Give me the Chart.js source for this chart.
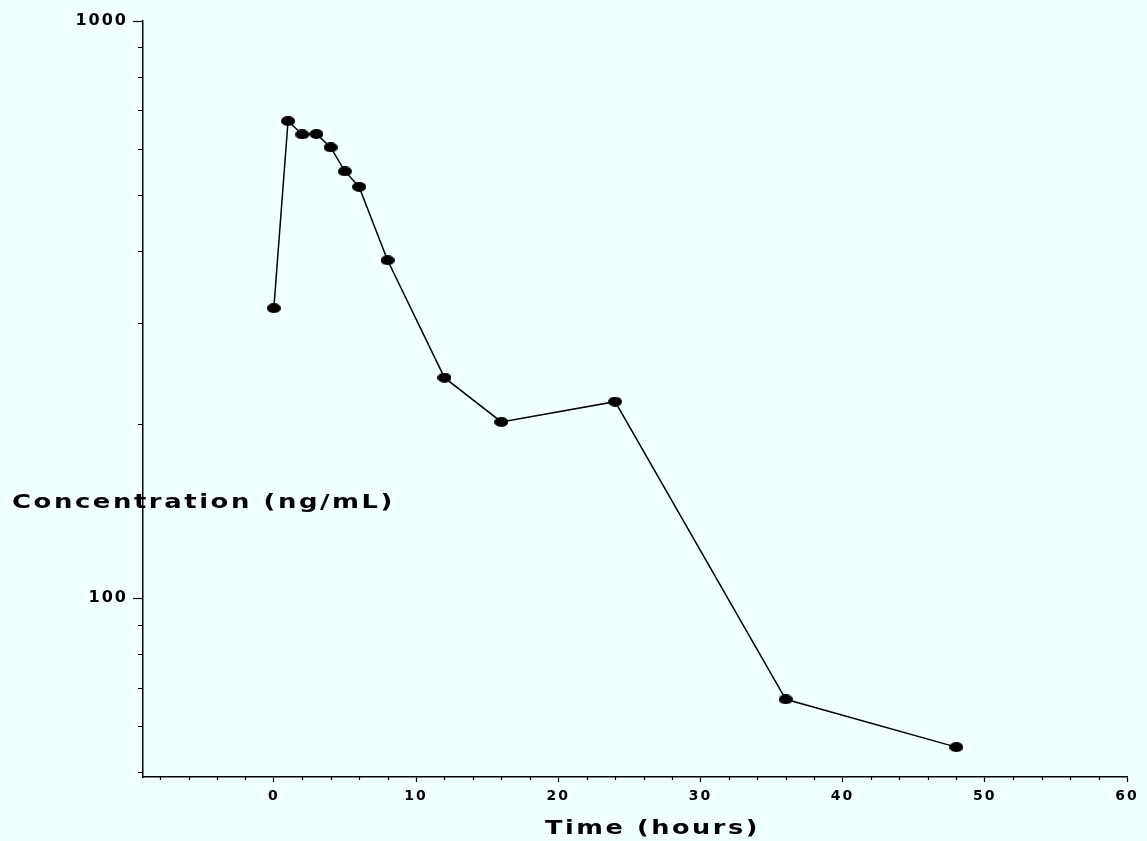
<!DOCTYPE html>
<html>
<head>
<meta charset="utf-8">
<title>Concentration vs Time</title>
<script src="https://cdn.jsdelivr.net/npm/chart.js@4.4.1/dist/chart.umd.min.js"></script>
<style>
  html, body { margin: 0; padding: 0; background: #f0ffff; }
  #wrap { width: 1147px; height: 841px; position: relative; }
</style>
</head>
<body>
<div id="wrap"><canvas id="chart"></canvas></div>
<script>
// sampling times (hours) and measured concentrations (ng/mL)
const timeHours = [0, 1, 2, 3, 4, 5, 6, 8, 12, 16, 24, 36, 48];
const concentration = [318, 671, 636, 637, 604, 549, 516, 385, 241, 202, 219, 66.8, 55.2];

// axis ticks
const yTickValues = [50, 60, 70, 80, 90, 100, 200, 300, 400, 500, 600, 700, 800, 900, 1000];
const yLabelled = [100, 1000];
const xTickValues = [-8, -6, -4, -2, 0, 2, 4, 6, 8, 10, 12, 14, 16, 18, 20, 22, 24, 26, 28, 30,
  32, 34, 36, 38, 40, 42, 44, 46, 48, 50, 52, 54, 56, 58, 60];
const xLabelled = [0, 10, 20, 30, 40, 50, 60];

const yTitle = 'Concentration (ng/mL)';
const xTitle = 'Time (hours)';

const INK = '#000';
const FONT = "'DejaVu Sans', sans-serif";

// flattened oval marker
function ovalMarker(w, h) {
  const c = document.createElement('canvas');
  c.width = w; c.height = h;
  const g = c.getContext('2d');
  g.fillStyle = INK;
  g.beginPath();
  g.ellipse(w / 2, h / 2, w / 2, h / 2, 0, 0, Math.PI * 2);
  g.fill();
  return c;
}
const marker = ovalMarker(14, 10);

// short unlabelled ticks plus the two free-floating axis titles
const decorations = {
  id: 'decorations',
  beforeDraw(chart) {
    chart.ctx.letterSpacing = '2px';
  },
  afterDraw(chart) {
    const { ctx, scales: { x, y } } = chart;
    ctx.save();
    ctx.strokeStyle = INK;
    ctx.lineWidth = 1.2;
    ctx.beginPath();
    yTickValues.filter(v => !yLabelled.includes(v)).forEach(v => {
      const py = Math.round(y.getPixelForValue(v)) + 0.5;
      ctx.moveTo(x.left - 5, py);
      ctx.lineTo(x.left, py);
    });
    xTickValues.filter(v => !xLabelled.includes(v)).forEach(v => {
      const px = Math.round(x.getPixelForValue(v)) + 0.5;
      ctx.moveTo(px, y.bottom);
      ctx.lineTo(px, y.bottom + 3);
    });
    ctx.stroke();

    ctx.fillStyle = INK;
    ctx.textBaseline = 'middle';
    ctx.textAlign = 'left';
    const drawStretched = (text, left, midY, width, size) => {
      ctx.font = `bold ${size}px ${FONT}`;
      ctx.letterSpacing = '2px';
      const w = ctx.measureText(text).width;
      ctx.save();
      ctx.translate(left, midY);
      ctx.scale(width / w, 1);
      ctx.fillText(text, 0, 0);
      ctx.restore();
    };
    drawStretched(yTitle, 12, 503, 383, 20);
    drawStretched(xTitle, 545, 829, 215, 20);
    ctx.restore();
  }
};

new Chart(document.getElementById('chart'), {
  type: 'line',
  data: {
    datasets: [{
      data: timeHours.map((t, i) => ({ x: t, y: concentration[i] })),
      borderColor: INK,
      borderWidth: 1.5,
      tension: 0,
      fill: false,
      pointStyle: marker,
      pointRadius: 7,
      pointBackgroundColor: INK,
      pointBorderColor: INK
    }]
  },
  options: {
    responsive: true,
    maintainAspectRatio: false,
    animation: false,
    layout: { padding: { top: 21, right: 20, left: 0, bottom: 0 } },
    plugins: {
      legend: { display: false },
      tooltip: { enabled: false }
    },
    scales: {
      x: {
        type: 'linear',
        min: -9.2,
        max: 60,
        afterBuildTicks: s => { s.ticks = xTickValues.map(v => ({ value: v })); },
        afterFit: s => { s.height = 64; },
        grid: {
          drawOnChartArea: false,
          tickLength: 5,
          tickWidth: 1.2,
          tickColor: c => xLabelled.includes(c.tick && c.tick.value) ? INK : 'transparent'
        },
        border: { color: INK, width: 1.5 },
        ticks: {
          autoSkip: false,
          maxRotation: 0,
          padding: 6,
          color: INK,
          font: { family: FONT, weight: 'bold', size: 14 },
          callback: v => xLabelled.includes(v) ? String(v) : ''
        }
      },
      y: {
        type: 'logarithmic',
        min: 49,
        max: 1000,
        afterBuildTicks: s => { s.ticks = yTickValues.map(v => ({ value: v })); },
        afterFit: s => { s.width = 143; },
        grid: {
          drawOnChartArea: false,
          tickLength: 10,
          tickWidth: 1.2,
          tickColor: c => yLabelled.includes(c.tick && c.tick.value) ? INK : 'transparent'
        },
        border: { color: INK, width: 1.5 },
        ticks: {
          autoSkip: false,
          padding: 5,
          color: INK,
          font: { family: FONT, weight: 'bold', size: 16 },
          callback: v => yLabelled.includes(v) ? String(v) : ''
        }
      }
    }
  },
  plugins: [decorations]
});
</script>
</body>
</html>
